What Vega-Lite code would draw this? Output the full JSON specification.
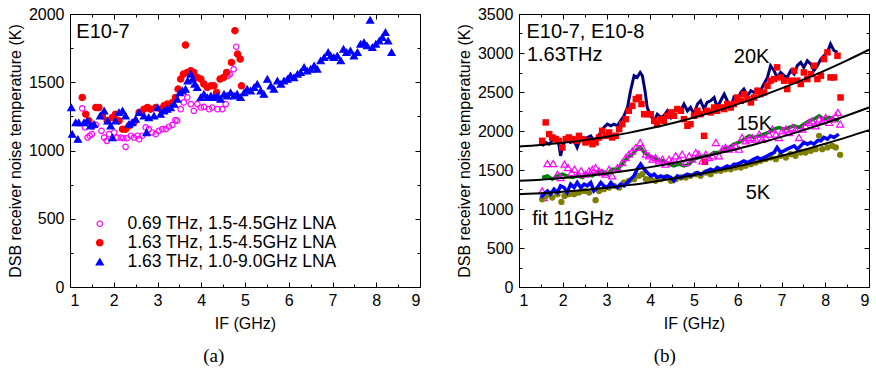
{
 "$schema": "https://vega.github.io/schema/vega-lite/v6.json",
 "background": "white",
 "padding": {"left": 6, "top": 5, "right": 0, "bottom": 0},
 "spacing": 34,
 "config": {
  "view": {"stroke": "black", "strokeWidth": 1},
  "axis": {"labelColor": "black", "titleColor": "black", "labelFont": "Liberation Sans", "titleFont": "Liberation Sans", "labelFontSize": 16, "titleFontSize": 16, "titleFontWeight": "normal"},
  "title": {"font": "Liberation Serif", "fontSize": 19, "fontWeight": "normal", "color": "black"}
 },
 "datasets": {
  "a": [
   {"x":1.28,"y":1308,"s":"m"},{"x":1.34,"y":1169,"s":"m"},{"x":1.40,"y":1095,"s":"m"},{"x":1.45,"y":1108,"s":"m"},{"x":1.50,"y":1120,"s":"m"},{"x":1.59,"y":1188,"s":"m"},{"x":1.72,"y":1144,"s":"m"},{"x":1.78,"y":1095,"s":"m"},{"x":1.84,"y":1071,"s":"m"},{"x":1.89,"y":1120,"s":"m"},{"x":2.01,"y":1132,"s":"m"},{"x":2.08,"y":1095,"s":"m"},{"x":2.16,"y":1095,"s":"m"},{"x":2.22,"y":1090,"s":"m"},{"x":2.27,"y":1027,"s":"m"},{"x":2.30,"y":1090,"s":"m"},{"x":2.39,"y":1108,"s":"m"},{"x":2.46,"y":1095,"s":"m"},{"x":2.54,"y":1108,"s":"m"},{"x":2.58,"y":1083,"s":"m"},{"x":2.65,"y":1108,"s":"m"},{"x":2.73,"y":1169,"s":"m"},{"x":2.80,"y":1156,"s":"m"},{"x":2.88,"y":1132,"s":"m"},{"x":2.96,"y":1120,"s":"m"},{"x":3.03,"y":1144,"s":"m"},{"x":3.11,"y":1156,"s":"m"},{"x":3.19,"y":1156,"s":"m"},{"x":3.26,"y":1174,"s":"m"},{"x":3.34,"y":1188,"s":"m"},{"x":3.41,"y":1222,"s":"m"},{"x":3.45,"y":1218,"s":"m"},{"x":3.53,"y":1303,"s":"m"},{"x":3.60,"y":1352,"s":"m"},{"x":3.68,"y":1389,"s":"m"},{"x":3.76,"y":1340,"s":"m"},{"x":3.83,"y":1291,"s":"m"},{"x":3.91,"y":1340,"s":"m"},{"x":3.99,"y":1315,"s":"m"},{"x":4.06,"y":1320,"s":"m"},{"x":4.18,"y":1303,"s":"m"},{"x":4.25,"y":1315,"s":"m"},{"x":4.37,"y":1303,"s":"m"},{"x":4.48,"y":1303,"s":"m"},{"x":4.56,"y":1340,"s":"m"},{"x":4.60,"y":1546,"s":"m"},{"x":4.65,"y":1558,"s":"m"},{"x":4.74,"y":1595,"s":"m"},{"x":4.80,"y":1760,"s":"m"},
   {"x":1.28,"y":1389,"s":"r"},{"x":1.36,"y":1266,"s":"r"},{"x":1.43,"y":1218,"s":"r"},{"x":1.51,"y":1181,"s":"r"},{"x":1.59,"y":1315,"s":"r"},{"x":1.66,"y":1315,"s":"r"},{"x":1.74,"y":1254,"s":"r"},{"x":1.85,"y":1218,"s":"r"},{"x":1.97,"y":1242,"s":"r"},{"x":2.04,"y":1266,"s":"r"},{"x":2.12,"y":1218,"s":"r"},{"x":2.20,"y":1156,"s":"r"},{"x":2.27,"y":1156,"s":"r"},{"x":2.35,"y":1181,"s":"r"},{"x":2.46,"y":1205,"s":"r"},{"x":2.58,"y":1279,"s":"r"},{"x":2.69,"y":1303,"s":"r"},{"x":2.77,"y":1315,"s":"r"},{"x":2.84,"y":1303,"s":"r"},{"x":2.96,"y":1315,"s":"r"},{"x":3.07,"y":1303,"s":"r"},{"x":3.15,"y":1328,"s":"r"},{"x":3.22,"y":1340,"s":"r"},{"x":3.34,"y":1352,"s":"r"},{"x":3.41,"y":1389,"s":"r"},{"x":3.47,"y":1450,"s":"r"},{"x":3.53,"y":1523,"s":"r"},{"x":3.59,"y":1560,"s":"r"},{"x":3.64,"y":1773,"s":"r"},{"x":3.68,"y":1572,"s":"r"},{"x":3.76,"y":1584,"s":"r"},{"x":3.83,"y":1572,"s":"r"},{"x":3.91,"y":1535,"s":"r"},{"x":3.99,"y":1523,"s":"r"},{"x":4.06,"y":1487,"s":"r"},{"x":4.14,"y":1462,"s":"r"},{"x":4.22,"y":1474,"s":"r"},{"x":4.29,"y":1474,"s":"r"},{"x":4.35,"y":1425,"s":"r"},{"x":4.43,"y":1523,"s":"r"},{"x":4.51,"y":1535,"s":"r"},{"x":4.58,"y":1572,"s":"r"},{"x":4.69,"y":1645,"s":"r"},{"x":4.77,"y":1878,"s":"r"},{"x":4.83,"y":1706,"s":"r"},{"x":4.89,"y":1670,"s":"r"},{"x":4.92,"y":1474,"s":"r"},
   {"x":1.03,"y":1315,"s":"b"},{"x":1.05,"y":1120,"s":"b"},{"x":1.13,"y":1205,"s":"b"},{"x":1.18,"y":1083,"s":"b"},{"x":1.20,"y":1205,"s":"b"},{"x":1.32,"y":1205,"s":"b"},{"x":1.40,"y":1218,"s":"b"},{"x":1.47,"y":1181,"s":"b"},{"x":1.55,"y":1193,"s":"b"},{"x":1.69,"y":1254,"s":"b"},{"x":1.78,"y":1291,"s":"b"},{"x":1.86,"y":1218,"s":"b"},{"x":1.93,"y":1181,"s":"b"},{"x":1.97,"y":1095,"s":"b"},{"x":2.04,"y":1218,"s":"b"},{"x":2.12,"y":1279,"s":"b"},{"x":2.20,"y":1291,"s":"b"},{"x":2.27,"y":1254,"s":"b"},{"x":2.35,"y":1193,"s":"b"},{"x":2.42,"y":1205,"s":"b"},{"x":2.50,"y":1230,"s":"b"},{"x":2.58,"y":1279,"s":"b"},{"x":2.69,"y":1254,"s":"b"},{"x":2.75,"y":1132,"s":"b"},{"x":2.80,"y":1242,"s":"b"},{"x":2.92,"y":1254,"s":"b"},{"x":3.00,"y":1315,"s":"b"},{"x":3.07,"y":1266,"s":"b"},{"x":3.15,"y":1291,"s":"b"},{"x":3.22,"y":1303,"s":"b"},{"x":3.30,"y":1315,"s":"b"},{"x":3.38,"y":1340,"s":"b"},{"x":3.45,"y":1377,"s":"b"},{"x":3.51,"y":1425,"s":"b"},{"x":3.57,"y":1438,"s":"b"},{"x":3.64,"y":1450,"s":"b"},{"x":3.69,"y":1511,"s":"b"},{"x":3.76,"y":1560,"s":"b"},{"x":3.80,"y":1523,"s":"b"},{"x":3.85,"y":1487,"s":"b"},{"x":3.91,"y":1462,"s":"b"},{"x":3.99,"y":1389,"s":"b"},{"x":4.06,"y":1413,"s":"b"},{"x":4.14,"y":1389,"s":"b"},{"x":4.22,"y":1401,"s":"b"},{"x":4.29,"y":1389,"s":"b"},{"x":4.37,"y":1401,"s":"b"},{"x":4.44,"y":1377,"s":"b"},{"x":4.52,"y":1413,"s":"b"},{"x":4.59,"y":1401,"s":"b"},{"x":4.67,"y":1425,"s":"b"},{"x":4.75,"y":1401,"s":"b"},{"x":4.82,"y":1413,"s":"b"},{"x":4.90,"y":1389,"s":"b"},{"x":4.98,"y":1425,"s":"b"},{"x":5.05,"y":1450,"s":"b"},{"x":5.13,"y":1438,"s":"b"},{"x":5.21,"y":1462,"s":"b"},{"x":5.28,"y":1487,"s":"b"},{"x":5.36,"y":1438,"s":"b"},{"x":5.43,"y":1413,"s":"b"},{"x":5.51,"y":1523,"s":"b"},{"x":5.59,"y":1474,"s":"b"},{"x":5.66,"y":1450,"s":"b"},{"x":5.74,"y":1511,"s":"b"},{"x":5.82,"y":1487,"s":"b"},{"x":5.89,"y":1511,"s":"b"},{"x":5.97,"y":1523,"s":"b"},{"x":6.04,"y":1548,"s":"b"},{"x":6.12,"y":1535,"s":"b"},{"x":6.20,"y":1560,"s":"b"},{"x":6.27,"y":1572,"s":"b"},{"x":6.35,"y":1609,"s":"b"},{"x":6.42,"y":1584,"s":"b"},{"x":6.50,"y":1597,"s":"b"},{"x":6.58,"y":1621,"s":"b"},{"x":6.65,"y":1597,"s":"b"},{"x":6.73,"y":1658,"s":"b"},{"x":6.81,"y":1682,"s":"b"},{"x":6.90,"y":1719,"s":"b"},{"x":6.96,"y":1694,"s":"b"},{"x":7.03,"y":1682,"s":"b"},{"x":7.11,"y":1694,"s":"b"},{"x":7.19,"y":1658,"s":"b"},{"x":7.25,"y":1743,"s":"b"},{"x":7.32,"y":1719,"s":"b"},{"x":7.41,"y":1731,"s":"b"},{"x":7.49,"y":1694,"s":"b"},{"x":7.57,"y":1719,"s":"b"},{"x":7.64,"y":1780,"s":"b"},{"x":7.72,"y":1792,"s":"b"},{"x":7.79,"y":1768,"s":"b"},{"x":7.86,"y":1956,"s":"b"},{"x":7.91,"y":1755,"s":"b"},{"x":7.99,"y":1780,"s":"b"},{"x":8.07,"y":1804,"s":"b"},{"x":8.14,"y":1829,"s":"b"},{"x":8.21,"y":1866,"s":"b"},{"x":8.27,"y":1804,"s":"b"},{"x":8.35,"y":1719,"s":"b"}
  ],
  "navy": [
   {"x":1.53,"y":1810},{"x":1.61,"y":1853},{"x":1.69,"y":1831},{"x":1.76,"y":1874},{"x":1.84,"y":1917},{"x":1.91,"y":1831},{"x":1.95,"y":1682},{"x":2.01,"y":1831},{"x":2.09,"y":1917},{"x":2.17,"y":1853},{"x":2.26,"y":1874},{"x":2.33,"y":1789},{"x":2.41,"y":1917},{"x":2.49,"y":1896},{"x":2.56,"y":1917},{"x":2.64,"y":1938},{"x":2.71,"y":1874},{"x":2.79,"y":1917},{"x":2.87,"y":1981},{"x":2.94,"y":2045},{"x":3.02,"y":2088},{"x":3.10,"y":2067},{"x":3.17,"y":2088},{"x":3.25,"y":2067},{"x":3.32,"y":2131},{"x":3.40,"y":2195},{"x":3.48,"y":2302},{"x":3.55,"y":2516},{"x":3.63,"y":2709},{"x":3.70,"y":2687},{"x":3.77,"y":2751},{"x":3.82,"y":2709},{"x":3.88,"y":2516},{"x":3.93,"y":2302},{"x":4.01,"y":2195},{"x":4.09,"y":2131},{"x":4.16,"y":2216},{"x":4.24,"y":2174},{"x":4.31,"y":2195},{"x":4.39,"y":2259},{"x":4.47,"y":2174},{"x":4.54,"y":2259},{"x":4.62,"y":2281},{"x":4.70,"y":2259},{"x":4.77,"y":2345},{"x":4.85,"y":2259},{"x":4.92,"y":2302},{"x":5.00,"y":2216},{"x":5.08,"y":2345},{"x":5.15,"y":2388},{"x":5.23,"y":2281},{"x":5.30,"y":2366},{"x":5.38,"y":2388},{"x":5.46,"y":2430},{"x":5.53,"y":2302},{"x":5.61,"y":2388},{"x":5.69,"y":2473},{"x":5.76,"y":2388},{"x":5.84,"y":2302},{"x":5.91,"y":2430},{"x":5.99,"y":2388},{"x":6.07,"y":2495},{"x":6.14,"y":2538},{"x":6.22,"y":2452},{"x":6.30,"y":2516},{"x":6.37,"y":2495},{"x":6.45,"y":2538},{"x":6.52,"y":2516},{"x":6.60,"y":2602},{"x":6.68,"y":2687},{"x":6.75,"y":2837},{"x":6.83,"y":2773},{"x":6.90,"y":2687},{"x":6.98,"y":2751},{"x":7.06,"y":2709},{"x":7.13,"y":2687},{"x":7.21,"y":2773},{"x":7.29,"y":2730},{"x":7.36,"y":2837},{"x":7.44,"y":2880},{"x":7.51,"y":2816},{"x":7.59,"y":2901},{"x":7.67,"y":2858},{"x":7.74,"y":2773},{"x":7.82,"y":2837},{"x":7.90,"y":2922},{"x":7.97,"y":2965},{"x":8.05,"y":3008},{"x":8.12,"y":3115},{"x":8.20,"y":3030},{"x":8.28,"y":3008}
  ],
  "red": [
   {"x":1.53,"y":1874},{"x":1.61,"y":2110},{"x":1.69,"y":1960},{"x":1.76,"y":1917},{"x":1.84,"y":1896},{"x":1.91,"y":1874},{"x":1.99,"y":1789},{"x":2.07,"y":1896},{"x":2.14,"y":1917},{"x":2.22,"y":1896},{"x":2.30,"y":1874},{"x":2.37,"y":1938},{"x":2.45,"y":1896},{"x":2.52,"y":1853},{"x":2.60,"y":1874},{"x":2.68,"y":1831},{"x":2.75,"y":1853},{"x":2.83,"y":1917},{"x":2.90,"y":2003},{"x":2.98,"y":1938},{"x":3.06,"y":1981},{"x":3.13,"y":1917},{"x":3.21,"y":1938},{"x":3.29,"y":2024},{"x":3.36,"y":2088},{"x":3.44,"y":2152},{"x":3.51,"y":2259},{"x":3.59,"y":2323},{"x":3.67,"y":2409},{"x":3.74,"y":2430},{"x":3.80,"y":2345},{"x":3.86,"y":2216},{"x":3.93,"y":2216},{"x":4.01,"y":2216},{"x":4.09,"y":2131},{"x":4.16,"y":2088},{"x":4.24,"y":2152},{"x":4.31,"y":2131},{"x":4.39,"y":2195},{"x":4.47,"y":2238},{"x":4.54,"y":2195},{"x":4.62,"y":2281},{"x":4.70,"y":2259},{"x":4.77,"y":2152},{"x":4.85,"y":2067},{"x":4.92,"y":2088},{"x":5.00,"y":2195},{"x":5.08,"y":2259},{"x":5.15,"y":2216},{"x":5.23,"y":1938},{"x":5.25,"y":1605},{"x":5.30,"y":2259},{"x":5.38,"y":2238},{"x":5.46,"y":2302},{"x":5.53,"y":2259},{"x":5.61,"y":2302},{"x":5.69,"y":2281},{"x":5.76,"y":2345},{"x":5.84,"y":2302},{"x":5.91,"y":2345},{"x":5.99,"y":2430},{"x":6.07,"y":2388},{"x":6.14,"y":2473},{"x":6.22,"y":2409},{"x":6.30,"y":2366},{"x":6.37,"y":2430},{"x":6.45,"y":2516},{"x":6.52,"y":2473},{"x":6.60,"y":2495},{"x":6.68,"y":2580},{"x":6.75,"y":2645},{"x":6.83,"y":2666},{"x":6.90,"y":2816},{"x":6.98,"y":2687},{"x":7.06,"y":2645},{"x":7.13,"y":2538},{"x":7.21,"y":2645},{"x":7.29,"y":2773},{"x":7.36,"y":2645},{"x":7.44,"y":2602},{"x":7.51,"y":2751},{"x":7.59,"y":2666},{"x":7.67,"y":2730},{"x":7.74,"y":2837},{"x":7.82,"y":2666},{"x":7.90,"y":2709},{"x":7.97,"y":2922},{"x":8.05,"y":3008},{"x":8.12,"y":2687},{"x":8.20,"y":2687},{"x":8.28,"y":2965},{"x":8.35,"y":2430}
  ],
  "green": [
   {"x":1.53,"y":1404},{"x":1.65,"y":1425},{"x":1.76,"y":1382},{"x":1.88,"y":1425},{"x":1.99,"y":1446},{"x":2.10,"y":1425},{"x":2.22,"y":1404},{"x":2.33,"y":1425},{"x":2.45,"y":1404},{"x":2.56,"y":1446},{"x":2.68,"y":1425},{"x":2.79,"y":1468},{"x":2.90,"y":1489},{"x":3.02,"y":1446},{"x":3.13,"y":1510},{"x":3.25,"y":1510},{"x":3.36,"y":1575},{"x":3.48,"y":1660},{"x":3.59,"y":1703},{"x":3.70,"y":1767},{"x":3.78,"y":1789},{"x":3.86,"y":1724},{"x":3.97,"y":1682},{"x":4.09,"y":1660},{"x":4.20,"y":1617},{"x":4.31,"y":1617},{"x":4.43,"y":1575},{"x":4.54,"y":1553},{"x":4.66,"y":1575},{"x":4.77,"y":1553},{"x":4.89,"y":1575},{"x":5.00,"y":1639},{"x":5.11,"y":1660},{"x":5.23,"y":1682},{"x":5.34,"y":1682},{"x":5.46,"y":1724},{"x":5.57,"y":1724},{"x":5.69,"y":1767},{"x":5.80,"y":1789},{"x":5.91,"y":1831},{"x":6.03,"y":1853},{"x":6.14,"y":1896},{"x":6.26,"y":1938},{"x":6.37,"y":1917},{"x":6.49,"y":1938},{"x":6.60,"y":1960},{"x":6.71,"y":1981},{"x":6.83,"y":2024},{"x":6.94,"y":2045},{"x":7.06,"y":2024},{"x":7.17,"y":2045},{"x":7.29,"y":2067},{"x":7.40,"y":2045},{"x":7.51,"y":2088},{"x":7.63,"y":2131},{"x":7.74,"y":2152},{"x":7.86,"y":2195},{"x":7.97,"y":2152},{"x":8.09,"y":2174},{"x":8.20,"y":2152},{"x":8.31,"y":2131}
  ],
  "mag": [
   {"x":1.53,"y":1232},{"x":1.57,"y":1147},{"x":1.65,"y":1583},{"x":1.78,"y":1583},{"x":1.88,"y":1446},{"x":1.95,"y":1404},{"x":2.04,"y":1575},{"x":2.12,"y":1532},{"x":2.20,"y":1468},{"x":2.27,"y":1510},{"x":2.35,"y":1446},{"x":2.42,"y":1489},{"x":2.52,"y":1446},{"x":2.60,"y":1489},{"x":2.68,"y":1510},{"x":2.75,"y":1532},{"x":2.83,"y":1489},{"x":2.90,"y":1468},{"x":2.98,"y":1446},{"x":3.06,"y":1510},{"x":3.13,"y":1425},{"x":3.25,"y":1532},{"x":3.36,"y":1596},{"x":3.44,"y":1660},{"x":3.51,"y":1703},{"x":3.59,"y":1746},{"x":3.67,"y":1789},{"x":3.77,"y":1853},{"x":3.82,"y":1789},{"x":3.90,"y":1703},{"x":3.97,"y":1682},{"x":4.05,"y":1639},{"x":4.12,"y":1660},{"x":4.20,"y":1617},{"x":4.28,"y":1639},{"x":4.35,"y":1575},{"x":4.43,"y":1639},{"x":4.50,"y":1617},{"x":4.58,"y":1682},{"x":4.66,"y":1639},{"x":4.73,"y":1703},{"x":4.81,"y":1596},{"x":4.89,"y":1682},{"x":4.96,"y":1639},{"x":5.04,"y":1724},{"x":5.11,"y":1703},{"x":5.19,"y":1617},{"x":5.27,"y":1703},{"x":5.34,"y":1660},{"x":5.42,"y":1682},{"x":5.50,"y":1853},{"x":5.57,"y":1682},{"x":5.65,"y":1767},{"x":5.72,"y":1789},{"x":5.80,"y":1767},{"x":5.88,"y":1789},{"x":5.95,"y":1810},{"x":6.03,"y":1767},{"x":6.10,"y":1917},{"x":6.18,"y":1874},{"x":6.26,"y":1896},{"x":6.33,"y":1917},{"x":6.41,"y":1896},{"x":6.49,"y":1960},{"x":6.56,"y":1896},{"x":6.64,"y":1917},{"x":6.71,"y":1960},{"x":6.79,"y":2024},{"x":6.87,"y":1960},{"x":6.94,"y":1917},{"x":7.02,"y":2003},{"x":7.10,"y":2024},{"x":7.17,"y":1981},{"x":7.25,"y":2045},{"x":7.32,"y":2024},{"x":7.40,"y":1917},{"x":7.48,"y":2024},{"x":7.55,"y":2067},{"x":7.63,"y":2110},{"x":7.70,"y":2131},{"x":7.78,"y":2067},{"x":7.86,"y":2152},{"x":7.93,"y":2131},{"x":8.01,"y":2174},{"x":8.09,"y":2110},{"x":8.16,"y":2152},{"x":8.24,"y":2195},{"x":8.29,"y":2238},{"x":8.34,"y":2088}
  ],
  "blue": [
   {"x":1.50,"y":1147},{"x":1.57,"y":1190},{"x":1.65,"y":1232},{"x":1.72,"y":1190},{"x":1.80,"y":1254},{"x":1.88,"y":1211},{"x":1.95,"y":1297},{"x":2.03,"y":1275},{"x":2.10,"y":1211},{"x":2.18,"y":1318},{"x":2.26,"y":1275},{"x":2.33,"y":1339},{"x":2.41,"y":1275},{"x":2.49,"y":1318},{"x":2.56,"y":1297},{"x":2.64,"y":1339},{"x":2.71,"y":1232},{"x":2.79,"y":1275},{"x":2.87,"y":1339},{"x":2.94,"y":1297},{"x":3.02,"y":1275},{"x":3.10,"y":1339},{"x":3.17,"y":1297},{"x":3.25,"y":1275},{"x":3.32,"y":1318},{"x":3.40,"y":1297},{"x":3.48,"y":1339},{"x":3.55,"y":1382},{"x":3.63,"y":1425},{"x":3.70,"y":1510},{"x":3.78,"y":1575},{"x":3.86,"y":1510},{"x":3.93,"y":1468},{"x":4.01,"y":1425},{"x":4.09,"y":1446},{"x":4.16,"y":1404},{"x":4.24,"y":1425},{"x":4.31,"y":1404},{"x":4.39,"y":1425},{"x":4.47,"y":1404},{"x":4.54,"y":1361},{"x":4.62,"y":1425},{"x":4.70,"y":1404},{"x":4.77,"y":1425},{"x":4.85,"y":1446},{"x":4.92,"y":1425},{"x":5.00,"y":1446},{"x":5.08,"y":1468},{"x":5.15,"y":1446},{"x":5.23,"y":1468},{"x":5.30,"y":1489},{"x":5.38,"y":1510},{"x":5.46,"y":1489},{"x":5.53,"y":1532},{"x":5.61,"y":1510},{"x":5.69,"y":1532},{"x":5.76,"y":1553},{"x":5.84,"y":1532},{"x":5.91,"y":1575},{"x":5.99,"y":1575},{"x":6.07,"y":1596},{"x":6.14,"y":1617},{"x":6.22,"y":1596},{"x":6.30,"y":1617},{"x":6.37,"y":1639},{"x":6.45,"y":1660},{"x":6.52,"y":1639},{"x":6.60,"y":1660},{"x":6.68,"y":1682},{"x":6.75,"y":1703},{"x":6.83,"y":1724},{"x":6.90,"y":1789},{"x":6.98,"y":1724},{"x":7.06,"y":1746},{"x":7.13,"y":1767},{"x":7.21,"y":1789},{"x":7.29,"y":1810},{"x":7.36,"y":1767},{"x":7.44,"y":1810},{"x":7.51,"y":1853},{"x":7.59,"y":1831},{"x":7.67,"y":1853},{"x":7.74,"y":1831},{"x":7.82,"y":1874},{"x":7.90,"y":1874},{"x":7.97,"y":1917},{"x":8.05,"y":1896},{"x":8.12,"y":1938},{"x":8.20,"y":1917},{"x":8.31,"y":1960}
  ],
  "olive": [
   {"x":1.53,"y":1125},{"x":1.61,"y":1168},{"x":1.69,"y":1190},{"x":1.76,"y":1147},{"x":1.88,"y":1190},{"x":1.97,"y":1091},{"x":2.04,"y":1168},{"x":2.14,"y":1190},{"x":2.26,"y":1190},{"x":2.37,"y":1211},{"x":2.49,"y":1232},{"x":2.60,"y":1211},{"x":2.75,"y":1113},{"x":2.83,"y":1232},{"x":2.94,"y":1254},{"x":3.06,"y":1275},{"x":3.17,"y":1297},{"x":3.29,"y":1275},{"x":3.40,"y":1339},{"x":3.51,"y":1361},{"x":3.63,"y":1382},{"x":3.74,"y":1425},{"x":3.82,"y":1446},{"x":3.90,"y":1382},{"x":4.01,"y":1382},{"x":4.12,"y":1361},{"x":4.24,"y":1382},{"x":4.35,"y":1404},{"x":4.47,"y":1361},{"x":4.58,"y":1382},{"x":4.70,"y":1404},{"x":4.81,"y":1404},{"x":4.92,"y":1425},{"x":5.04,"y":1446},{"x":5.15,"y":1425},{"x":5.27,"y":1468},{"x":5.38,"y":1446},{"x":5.50,"y":1489},{"x":5.61,"y":1489},{"x":5.72,"y":1510},{"x":5.84,"y":1510},{"x":5.95,"y":1532},{"x":6.07,"y":1532},{"x":6.18,"y":1553},{"x":6.30,"y":1575},{"x":6.41,"y":1596},{"x":6.52,"y":1617},{"x":6.64,"y":1639},{"x":6.75,"y":1660},{"x":6.87,"y":1639},{"x":6.98,"y":1682},{"x":7.10,"y":1660},{"x":7.21,"y":1703},{"x":7.32,"y":1682},{"x":7.44,"y":1724},{"x":7.55,"y":1724},{"x":7.67,"y":1746},{"x":7.78,"y":1767},{"x":7.86,"y":1938},{"x":7.93,"y":1767},{"x":8.05,"y":1789},{"x":8.16,"y":1810},{"x":8.24,"y":1789},{"x":8.34,"y":1694}
  ],
  "fit": [
   {"k":"20K","x":1,"y":1801},{"k":"20K","x":1.5,"y":1821},{"k":"20K","x":2,"y":1848},{"k":"20K","x":2.5,"y":1883},{"k":"20K","x":3,"y":1926},{"k":"20K","x":3.5,"y":1976},{"k":"20K","x":4,"y":2034},{"k":"20K","x":4.5,"y":2100},{"k":"20K","x":5,"y":2174},{"k":"20K","x":5.5,"y":2255},{"k":"20K","x":6,"y":2344},{"k":"20K","x":6.5,"y":2441},{"k":"20K","x":7,"y":2546},{"k":"20K","x":7.5,"y":2658},{"k":"20K","x":8,"y":2778},{"k":"20K","x":8.5,"y":2906},{"k":"20K","x":9,"y":3042},
   {"k":"15K","x":1,"y":1361},{"k":"15K","x":1.5,"y":1375},{"k":"15K","x":2,"y":1396},{"k":"15K","x":2.5,"y":1422},{"k":"15K","x":3,"y":1455},{"k":"15K","x":3.5,"y":1493},{"k":"15K","x":4,"y":1537},{"k":"15K","x":4.5,"y":1587},{"k":"15K","x":5,"y":1643},{"k":"15K","x":5.5,"y":1705},{"k":"15K","x":6,"y":1772},{"k":"15K","x":6.5,"y":1846},{"k":"15K","x":7,"y":1925},{"k":"15K","x":7.5,"y":2011},{"k":"15K","x":8,"y":2102},{"k":"15K","x":8.5,"y":2199},{"k":"15K","x":9,"y":2302},
   {"k":"5K","x":1,"y":1190},{"k":"5K","x":1.5,"y":1203},{"k":"5K","x":2,"y":1221},{"k":"5K","x":2.5,"y":1244},{"k":"5K","x":3,"y":1272},{"k":"5K","x":3.5,"y":1306},{"k":"5K","x":4,"y":1344},{"k":"5K","x":4.5,"y":1388},{"k":"5K","x":5,"y":1437},{"k":"5K","x":5.5,"y":1490},{"k":"5K","x":6,"y":1549},{"k":"5K","x":6.5,"y":1613},{"k":"5K","x":7,"y":1683},{"k":"5K","x":7.5,"y":1757},{"k":"5K","x":8,"y":1837},{"k":"5K","x":8.5,"y":1921},{"k":"5K","x":9,"y":2011}
  ],
  "annA": [{"x":1.145,"y":1870,"t":"E10-7"}],
  "annB": [
   {"x":1.17,"y":3264,"t":"E10-7, E10-8"},{"x":1.18,"y":2978,"t":"1.63THz"},{"x":5.91,"y":2943,"t":"20K"},{"x":5.97,"y":2088,"t":"15K"},{"x":6.18,"y":1211,"t":"5K"},{"x":1.30,"y":869,"t":"fit 11GHz"}
  ]
 },
 "hconcat": [
  {
   "width": 350, "height": 273,
   "title": {"text": "(a)", "orient": "bottom", "anchor": "middle", "frame": "bounds", "offset": 16},
   "resolve": {"axis": {"x": "independent", "y": "independent"}},
   "layer": [
    {
     "data": {"name": "a"},
     "mark": {"type": "point", "opacity": 1, "strokeWidth": 1.2},
     "encoding": {
      "x": {"field": "x", "type": "quantitative", "scale": {"domain": [1, 9], "nice": false, "zero": false}, "axis": {"orient": "bottom", "title": "IF (GHz)", "values": [1,1.5,2,2.5,3,3.5,4,4.5,5,5.5,6,6.5,7,7.5,8,8.5,9], "labelExpr": "datum.value % 1 == 0 ? format(datum.value, 'd') : ''", "ticks": false, "domain": false, "grid": true, "gridColor": "black", "gridOpacity": 1, "gridWidth": 1, "gridDash": {"condition": {"test": "datum.value % 1 == 0", "value": [5, 263, 5, 50]}, "value": [3, 267, 3, 50]}, "labelPadding": 5, "titlePadding": 7}},
      "y": {"field": "y", "type": "quantitative", "scale": {"domain": [0, 2000], "nice": false}, "axis": {"orient": "left", "title": "DSB receiver noise temperature (K)", "values": [0,250,500,750,1000,1250,1500,1750,2000], "labelExpr": "datum.value % 500 == 0 ? format(datum.value, 'd') : ''", "ticks": false, "domain": false, "grid": true, "gridColor": "black", "gridOpacity": 1, "gridWidth": 1, "gridDash": {"condition": {"test": "datum.value % 500 == 0", "value": [5, 340, 5, 50]}, "value": [3, 344, 3, 50]}, "labelPadding": 6, "titlePadding": 5}},
      "shape": {"field": "s", "type": "nominal", "scale": {"domain": ["m","r","b"], "range": ["circle","circle","triangle-up"]}, "legend": {"title": null, "orient": "none", "legendX": 21, "legendY": 201, "padding": 0, "labelFont": "Liberation Sans", "labelFontSize": 17.5, "labelColor": "black", "labelOffset": 19, "rowPadding": 0, "labelLimit": 400, "symbolStrokeWidth": 1.2, "labelExpr": "datum.label == 'm' ? '0.69 THz, 1.5-4.5GHz LNA' : datum.label == 'r' ? '1.63 THz, 1.5-4.5GHz LNA' : '1.63 THz, 1.0-9.0GHz LNA'"}},
      "fill": {"field": "s", "type": "nominal", "scale": {"domain": ["m","r","b"], "range": ["transparent","#FF0000","#0000FF"]}, "legend": {"title": null, "orient": "none", "legendX": 21, "legendY": 201, "padding": 0, "labelFont": "Liberation Sans", "labelFontSize": 17.5, "labelColor": "black", "labelOffset": 19, "rowPadding": 0, "labelLimit": 400, "symbolStrokeWidth": 1.2, "labelExpr": "datum.label == 'm' ? '0.69 THz, 1.5-4.5GHz LNA' : datum.label == 'r' ? '1.63 THz, 1.5-4.5GHz LNA' : '1.63 THz, 1.0-9.0GHz LNA'"}},
      "stroke": {"field": "s", "type": "nominal", "scale": {"domain": ["m","r","b"], "range": ["#FF00FF","#FF0000","#0000FF"]}, "legend": {"title": null, "orient": "none", "legendX": 21, "legendY": 201, "padding": 0, "labelFont": "Liberation Sans", "labelFontSize": 17.5, "labelColor": "black", "labelOffset": 19, "rowPadding": 0, "labelLimit": 400, "symbolStrokeWidth": 1.2, "labelExpr": "datum.label == 'm' ? '0.69 THz, 1.5-4.5GHz LNA' : datum.label == 'r' ? '1.63 THz, 1.5-4.5GHz LNA' : '1.63 THz, 1.0-9.0GHz LNA'"}},
      "size": {"field": "s", "type": "nominal", "scale": {"domain": ["m","r","b"], "range": [30, 50, 70]}, "legend": {"title": null, "orient": "none", "legendX": 21, "legendY": 201, "padding": 0, "labelFont": "Liberation Sans", "labelFontSize": 17.5, "labelColor": "black", "labelOffset": 19, "rowPadding": 0, "labelLimit": 400, "symbolStrokeWidth": 1.2, "labelExpr": "datum.label == 'm' ? '0.69 THz, 1.5-4.5GHz LNA' : datum.label == 'r' ? '1.63 THz, 1.5-4.5GHz LNA' : '1.63 THz, 1.0-9.0GHz LNA'"}}
     }
    },
    {
     "data": {"name": "annA"},
     "mark": {"type": "text", "align": "left", "baseline": "middle", "font": "Liberation Sans", "fontSize": 20, "color": "black"},
     "encoding": {
      "x": {"field": "x", "type": "quantitative", "axis": null},
      "y": {"field": "y", "type": "quantitative", "axis": null},
      "text": {"field": "t"}
     }
    }
   ]
  },
  {
   "width": 350, "height": 273,
   "title": {"text": "(b)", "orient": "bottom", "anchor": "middle", "frame": "bounds", "offset": 16},
   "resolve": {"axis": {"x": "independent", "y": "independent"}},
   "layer": [
    {
     "data": {"name": "navy"},
     "mark": {"type": "line", "color": "#000080", "strokeWidth": 3},
     "encoding": {
      "x": {"field": "x", "type": "quantitative", "scale": {"domain": [1, 9], "nice": false, "zero": false}, "axis": {"orient": "bottom", "title": "IF (GHz)", "values": [1,1.5,2,2.5,3,3.5,4,4.5,5,5.5,6,6.5,7,7.5,8,8.5,9], "labelExpr": "datum.value % 1 == 0 ? format(datum.value, 'd') : ''", "ticks": false, "domain": false, "grid": true, "gridColor": "black", "gridOpacity": 1, "gridWidth": 1, "gridDash": {"condition": {"test": "datum.value % 1 == 0", "value": [5, 263, 5, 50]}, "value": [3, 267, 3, 50]}, "labelPadding": 5, "titlePadding": 7}},
      "y": {"field": "y", "type": "quantitative", "scale": {"domain": [0, 3500], "nice": false}, "axis": {"orient": "left", "title": "DSB receiver noise temperature (K)", "values": [0,250,500,750,1000,1250,1500,1750,2000,2250,2500,2750,3000,3250,3500], "labelExpr": "datum.value % 500 == 0 ? format(datum.value, 'd') : ''", "ticks": false, "domain": false, "grid": true, "gridColor": "black", "gridOpacity": 1, "gridWidth": 1, "gridDash": {"condition": {"test": "datum.value % 500 == 0", "value": [5, 340, 5, 50]}, "value": [3, 344, 3, 50]}, "labelPadding": 6, "titlePadding": 5}}
     }
    },
    {
     "data": {"name": "red"},
     "mark": {"type": "square", "color": "#FF0000", "size": 42, "opacity": 1},
     "encoding": {
      "x": {"field": "x", "type": "quantitative", "axis": null},
      "y": {"field": "y", "type": "quantitative", "axis": null}
     }
    },
    {
     "data": {"name": "green"},
     "mark": {"type": "line", "color": "#008000", "strokeWidth": 3.5},
     "encoding": {
      "x": {"field": "x", "type": "quantitative", "axis": null},
      "y": {"field": "y", "type": "quantitative", "axis": null}
     }
    },
    {
     "data": {"name": "mag"},
     "mark": {"type": "point", "shape": "triangle-up", "filled": false, "color": "#FF00FF", "size": 50, "strokeWidth": 1.2, "opacity": 1},
     "encoding": {
      "x": {"field": "x", "type": "quantitative", "axis": null},
      "y": {"field": "y", "type": "quantitative", "axis": null}
     }
    },
    {
     "data": {"name": "olive"},
     "mark": {"type": "circle", "color": "#808000", "size": 40, "opacity": 1},
     "encoding": {
      "x": {"field": "x", "type": "quantitative", "axis": null},
      "y": {"field": "y", "type": "quantitative", "axis": null}
     }
    },
    {
     "data": {"name": "blue"},
     "mark": {"type": "line", "color": "#0000FF", "strokeWidth": 3.5},
     "encoding": {
      "x": {"field": "x", "type": "quantitative", "axis": null},
      "y": {"field": "y", "type": "quantitative", "axis": null}
     }
    },
    {
     "data": {"name": "fit"},
     "mark": {"type": "line", "color": "black", "strokeWidth": 2, "interpolate": "monotone"},
     "encoding": {
      "x": {"field": "x", "type": "quantitative", "axis": null},
      "y": {"field": "y", "type": "quantitative", "axis": null},
      "detail": {"field": "k"}
     }
    },
    {
     "data": {"name": "annB"},
     "mark": {"type": "text", "align": "left", "baseline": "middle", "font": "Liberation Sans", "fontSize": 20, "color": "black"},
     "encoding": {
      "x": {"field": "x", "type": "quantitative", "axis": null},
      "y": {"field": "y", "type": "quantitative", "axis": null},
      "text": {"field": "t"}
     }
    }
   ]
  }
 ]
}
